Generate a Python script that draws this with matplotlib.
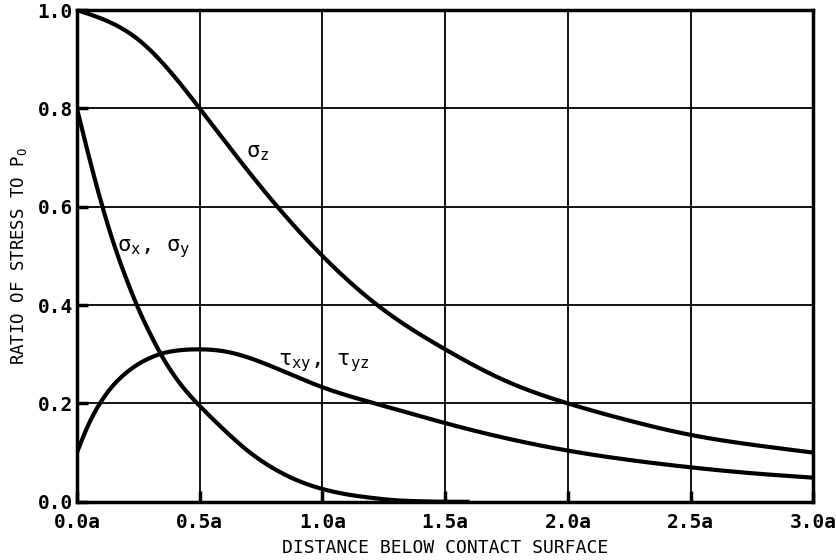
import numpy as np
import matplotlib.pyplot as plt

size = 14
params = {'font.family': 'DejaVu Sans Mono',
          'font.weight': 'bold',
          'axes.linewidth': 2.5,
          'xtick.labelsize': size,
          'ytick.labelsize': size,
          'mathtext.default': 'regular'}
plt.rcParams.update(params)

# distance below surface (in units of a) and stress ratios
sz_x = [0.0, 0.25, 0.5, 0.75, 1.0, 1.25, 1.5, 1.75, 2.0, 2.25, 2.5, 2.75, 3.0]
sz_y = [1.0, 0.94, 0.80, 0.64, 0.50, 0.39, 0.31, 0.245, 0.20, 0.165, 0.136, 0.116, 0.10]

sx_x = [0.0, 0.05, 0.1, 0.15, 0.2, 0.25, 0.3, 0.35, 0.4, 0.45, 0.5, 0.6, 0.7,
        0.8, 0.9, 1.0, 1.1, 1.2, 1.3, 1.4, 1.5, 1.6]
sx_y = [0.80, 0.70, 0.607, 0.525, 0.455, 0.393, 0.34, 0.293, 0.254, 0.222,
        0.195, 0.146, 0.102, 0.068, 0.043, 0.026, 0.015, 0.008, 0.003, 0.001,
        0.0, 0.0]

tau_x = [0.0, 0.05, 0.1, 0.15, 0.2, 0.25, 0.3, 0.35, 0.4, 0.5, 0.6, 0.7, 0.8,
         0.9, 1.0, 1.25, 1.5, 1.75, 2.0, 2.25, 2.5, 2.75, 3.0]
tau_y = [0.10, 0.16, 0.205, 0.238, 0.262, 0.28, 0.293, 0.302, 0.307, 0.310,
         0.306, 0.293, 0.274, 0.253, 0.233, 0.195, 0.16, 0.129, 0.104, 0.085,
         0.07, 0.058, 0.049]

x_ticks = [0.0, 0.5, 1.0, 1.5, 2.0, 2.5, 3.0]
x_tick_labels = ['0.0a', '0.5a', '1.0a', '1.5a', '2.0a', '2.5a', '3.0a']
y_ticks = [0.0, 0.2, 0.4, 0.6, 0.8, 1.0]


def spline(x, y, n=400):
  # natural cubic spline through the read points
  x = np.asarray(x, float)
  y = np.asarray(y, float)
  m = len(x)
  h = np.diff(x)
  A = np.zeros((m, m))
  b = np.zeros(m)
  A[0, 0] = A[-1, -1] = 1.0
  for i in range(1, m - 1):
    A[i, i - 1] = h[i - 1]
    A[i, i] = 2 * (h[i - 1] + h[i])
    A[i, i + 1] = h[i]
    b[i] = 6 * ((y[i + 1] - y[i]) / h[i] - (y[i] - y[i - 1]) / h[i - 1])
  M = np.linalg.solve(A, b)
  xs = np.linspace(x[0], x[-1], n)
  k = np.clip(np.searchsorted(x, xs) - 1, 0, m - 2)
  t0 = x[k + 1] - xs
  t1 = xs - x[k]
  hk = h[k]
  ys = (M[k] * t0**3 + M[k + 1] * t1**3) / (6 * hk) \
      + (y[k] / hk - M[k] * hk / 6) * t0 + (y[k + 1] / hk - M[k + 1] * hk / 6) * t1
  return xs, np.clip(ys, 0, None)


fig = plt.figure(figsize=(8.36, 5.6), dpi=100)
ax = fig.add_axes([0.092, 0.104, 0.881, 0.878])

for xs, ys in [(sz_x, sz_y), (sx_x, sx_y), (tau_x, tau_y)]:
  px, py = spline(xs, ys)
  ax.plot(px, py, color='black', lw=3, solid_capstyle='butt', zorder=3)

ax.set_xlim(0, 3.0)
ax.set_ylim(0, 1.0)
ax.set_xticks(x_ticks)
ax.set_xticklabels(x_tick_labels)
ax.set_yticks(y_ticks)
ax.set_yticklabels(['%.1f' % v for v in y_ticks])
ax.grid(True, color='black', lw=1.3)
ax.tick_params(direction='in', length=8, width=2.5)
ax.tick_params(axis='x', pad=8)
ax.tick_params(axis='y', pad=3)

ax.text(0.69, 0.70, r'$\sigma_z$', fontsize=16, fontweight='normal')
ax.text(0.165, 0.51, r'$\sigma_x,\ \sigma_y$', fontsize=16, fontweight='normal')
ax.text(0.82, 0.278, r'$\tau_{xy},\ \tau_{yz}$', fontsize=16, fontweight='normal')

ax.set_xlabel('DISTANCE BELOW CONTACT SURFACE', fontsize=13, labelpad=5)
ax.set_ylabel(r'RATIO OF STRESS TO P$_O$', fontsize=12.5, labelpad=6)

fig.savefig('out.png', dpi=100)
plt.close('all')
